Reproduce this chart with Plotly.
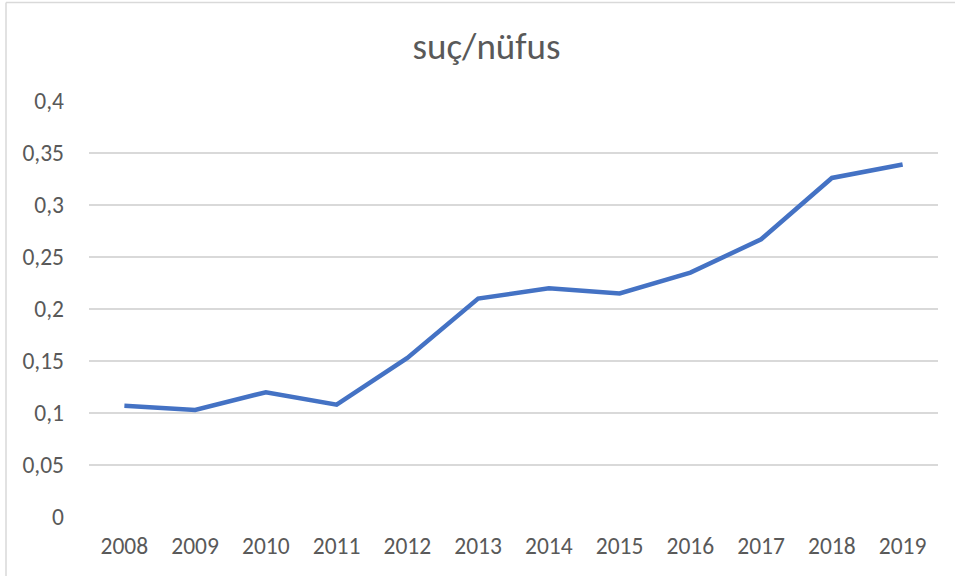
import plotly.graph_objects as go

years = ["2008", "2009", "2010", "2011", "2012", "2013", "2014", "2015", "2016", "2017", "2018", "2019"]
values = [0.107, 0.103, 0.120, 0.108, 0.153, 0.210, 0.220, 0.215, 0.235, 0.267, 0.326, 0.339]
y_ticks = [0, 0.05, 0.1, 0.15, 0.2, 0.25, 0.3, 0.35, 0.4]
y_tick_labels = ["0", "0,05", "0,1", "0,15", "0,2", "0,25", "0,3", "0,35", "0,4"]
title_text = "suç/nüfus"

W, H = 955, 576
L, R, T, B = 89, 17, 101, 59
pw, ph = W - L - R, H - T - B

fig = go.Figure()
fig.add_trace(go.Scatter(
    x=years, y=values, mode="lines",
    line=dict(color="#4472C4", width=4.5, shape="linear"),
    hoverinfo="x+y",
))

font_family = "Carlito, Calibri, 'Open Sans', sans-serif"

fig.update_layout(
    width=W, height=H,
    margin=dict(l=L, r=R, t=T, b=B, autoexpand=False),
    paper_bgcolor="white", plot_bgcolor="white",
    showlegend=False,
    title=dict(text=title_text, x=486.5 / W, xref="container", xanchor="center",
               y=1 - 46 / H, yref="container", yanchor="middle",
               font=dict(family=font_family, size=37, color="#595959")),
    font=dict(family=font_family, color="#595959"),
    xaxis=dict(type="category", range=[-0.5, len(years) - 0.5],
               showgrid=False, zeroline=False, showline=False, ticks="",
               tickfont=dict(size=23.5, color="#595959"),
               ticklabelstandoff=12, fixedrange=True),
    yaxis=dict(range=[0, 0.4], tickvals=y_ticks, ticktext=y_tick_labels,
               showgrid=True, gridcolor="#d9d9d9", gridwidth=1.5,
               zeroline=False, showline=False, ticks="",
               tickfont=dict(size=23.5, color="#595959"),
               ticklabelstandoff=24, fixedrange=True),
    shapes=[
        dict(type="line", xref="paper", yref="paper",
             x0=(6 - L) / pw, x1=(W + 10 - L) / pw,
             y0=(H - B - 2.5) / ph, y1=(H - B - 2.5) / ph,
             line=dict(color="#d9d9d9", width=1.5)),
        dict(type="line", xref="paper", yref="paper",
             x0=(6 - L) / pw, x1=(6 - L) / pw,
             y0=(H - B - 2.5) / ph, y1=(-B - 10) / ph,
             line=dict(color="#d9d9d9", width=1.5)),
    ],
)

fig.write_html(
    "out.html",
    config={"displayModeBar": False},
    post_script="document.body.style.margin='0';document.body.style.padding='0';document.documentElement.style.overflow='hidden';",
)
